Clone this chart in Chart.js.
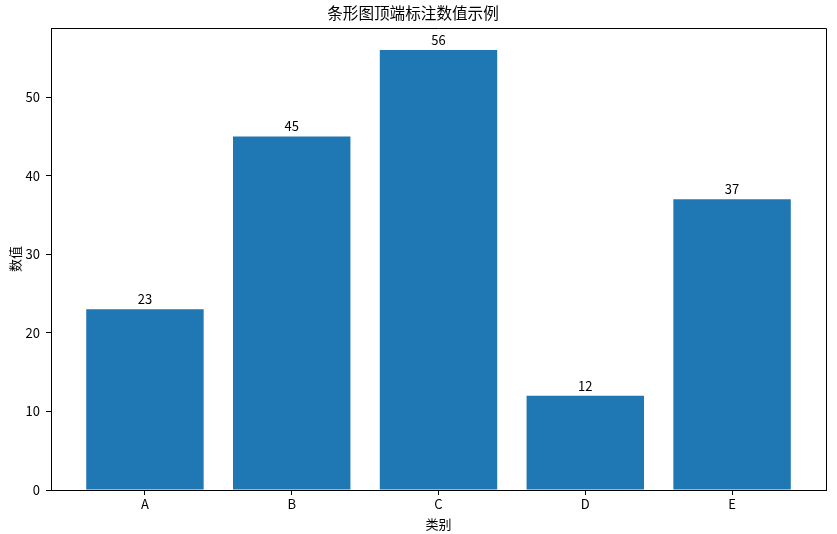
<!DOCTYPE html>
<html>
<head>
<meta charset="utf-8">
<script src="https://cdn.jsdelivr.net/npm/chart.js@4/dist/chart.umd.min.js"></script>
<style>
  html, body { margin: 0; padding: 0; background: #fff; }
  #wrap { width: 837px; height: 534px; }
</style>
</head>
<body>
<div id="wrap"><canvas id="chart" width="837" height="534"></canvas></div>
<script>
var categories = ['A', 'B', 'C', 'D', 'E'];
var values = [23, 45, 56, 12, 37];
var yTicks = [0, 10, 20, 30, 40, 50];

var FONT = '"Noto Sans CJK SC", "Noto Sans", sans-serif';

// one point per category on a linear axis so the margins match
var points = categories.map(function(c, i) {
  return { x: i, y: values[i] };
});

var frame = {
  id: 'frame',
  afterDraw: function(chart) {
    var a = chart.chartArea, ctx = chart.ctx;
    ctx.save();
    ctx.strokeStyle = '#000';
    ctx.lineWidth = 1;
    ctx.beginPath();
    ctx.moveTo(a.left, a.top + 0.5);
    ctx.lineTo(a.right + 0.5, a.top + 0.5);
    ctx.lineTo(a.right + 0.5, a.bottom);
    ctx.stroke();
    ctx.restore();
  }
};

var barLabels = {
  id: 'barLabels',
  afterDatasetsDraw: function(chart) {
    var ctx = chart.ctx;
    var meta = chart.getDatasetMeta(0);
    ctx.save();
    ctx.font = '13px ' + FONT;
    ctx.fillStyle = '#000';
    ctx.textAlign = 'center';
    ctx.textBaseline = 'alphabetic';
    meta.data.forEach(function(bar, i) {
      ctx.fillText(String(values[i]), bar.x, bar.y - 5);
    });
    ctx.restore();
  }
};

new Chart(document.getElementById('chart'), {
  type: 'bar',
  data: {
    datasets: [{
      data: points,
      backgroundColor: '#1f77b4',
      borderWidth: 0,
      inflateAmount: 0,
      barPercentage: 0.8,
      categoryPercentage: 1.0
    }]
  },
  options: {
    responsive: false,
    animation: false,
    layout: { padding: { left: 0, right: 11, top: 0, bottom: 0 } },
    plugins: {
      legend: { display: false },
      tooltip: { enabled: false },
      title: {
        display: true,
        text: '条形图顶端标注数值示例',
        color: '#000',
        font: { family: FONT, size: 15.6, weight: 'normal' },
        padding: { top: 4, bottom: 5.3 }
      }
    },
    scales: {
      x: {
        type: 'linear',
        min: -0.64,
        max: 4.64,
        offset: false,
        afterBuildTicks: function(scale) {
          scale.ticks = categories.map(function(c, i) { return { value: i }; });
        },
        afterFit: function(scale) { scale.height = 44; },
        ticks: {
          color: '#000',
          font: { family: FONT, size: 13 },
          padding: 1,
          maxRotation: 0,
          callback: function(v) { return categories[v]; }
        },
        grid: {
          offset: false,
          drawOnChartArea: false,
          drawTicks: true,
          tickLength: 5,
          tickColor: '#000'
        },
        border: { display: true, color: '#000', width: 1 },
        title: {
          display: true,
          text: '类别',
          color: '#000',
          font: { family: FONT, size: 13 },
          padding: { top: 0, bottom: 2.2 }
        }
      },
      y: {
        min: 0,
        max: 58.8,
        afterBuildTicks: function(scale) {
          scale.ticks = yTicks.map(function(v) { return { value: v }; });
        },
        afterFit: function(scale) { scale.width = 51; },
        ticks: {
          color: '#000',
          font: { family: FONT, size: 13 },
          padding: 6
        },
        grid: {
          drawOnChartArea: false,
          drawTicks: true,
          tickLength: 5,
          tickColor: '#000'
        },
        border: { display: true, color: '#000', width: 1 },
        title: {
          display: true,
          text: '数值',
          color: '#000',
          font: { family: FONT, size: 13 },
          padding: { top: 7.2, bottom: 0 }
        }
      }
    }
  },
  plugins: [frame, barLabels]
});
</script>
</body>
</html>
